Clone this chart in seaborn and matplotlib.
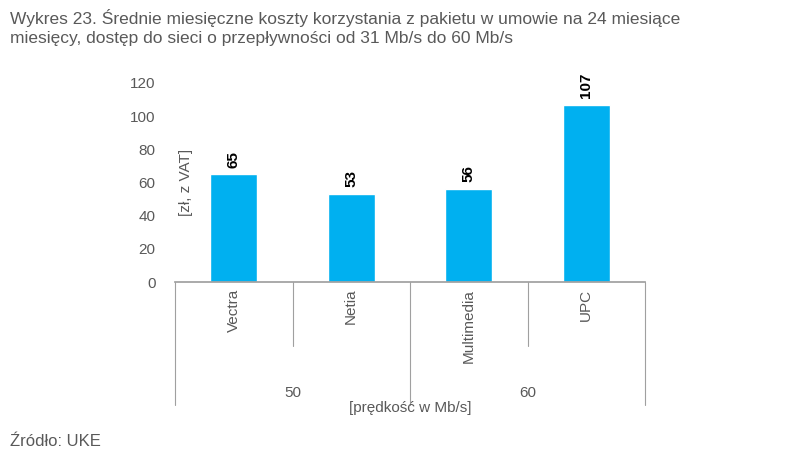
import matplotlib.pyplot as plt
import seaborn as sns
import pandas as pd

operators = ['Vectra', 'Netia', 'Multimedia', 'UPC']
costs = [65, 53, 56, 107]
speed_groups = ['50', '60']

sns.set_theme(style='white')
plt.rcParams['font.family'] = ['Liberation Sans', 'DejaVu Sans']
gray = '#595959'

df = pd.DataFrame({'operator': operators, 'cost': costs})

fig = plt.figure(figsize=(7.94, 4.63), dpi=100)
ax = fig.add_axes([175 / 794, 1 - 282 / 463, 470 / 794, 199 / 463])
sns.barplot(data=df, x='operator', y='cost', color='#00B0F0', width=0.4,
            saturation=1, ax=ax)
ax.set_xlim(-0.5, 3.5)
ax.set_ylim(0, 120)
ax.set_yticks(range(0, 121, 20))
ax.tick_params(axis='y', colors=gray, labelsize=11, length=0, pad=14)
ax.set_xticks([])
ax.set_xlabel('')
ax.set_ylabel('')
for s in ['top', 'right', 'left']:
    ax.spines[s].set_visible(False)
ax.spines['bottom'].set_color('#A0A0A0')

for i, v in enumerate(costs):
    ax.text(i, v + 4, str(v), rotation=90, ha='center', va='bottom',
            fontsize=11, fontweight='bold', color='black')
    ax.text(i, -4, operators[i], rotation=90, ha='center', va='top',
            fontsize=11, color=gray)

# group separators below the axis
tr = ax.get_xaxis_transform()
for x, h in [(-0.5, -0.62), (0.5, -0.32), (1.5, -0.62), (2.5, -0.32), (3.5, -0.62)]:
    ax.plot([x, x], [0, h], color='#A0A0A0', lw=0.8, transform=tr, clip_on=False)
for x, lab in zip([0.5, 2.5], speed_groups):
    ax.text(x, -0.56, lab, ha='center', va='center', fontsize=11, color=gray, transform=tr)
ax.text(1.5, -0.635, '[prędkość w Mb/s]', ha='center', va='center', fontsize=11,
        color=gray, transform=tr)

fig.text(186 / 794, 1 - 182 / 463, '[zł, z VAT]', rotation=90, ha='center',
         va='center', fontsize=11, color=gray)
fig.text(10 / 794, 1 - 18 / 463,
         'Wykres 23. Średnie miesięczne koszty korzystania z pakietu w umowie na 24 miesiące',
         fontsize=12.5, color=gray, va='center')
fig.text(10 / 794, 1 - 38 / 463,
         'miesięcy, dostęp do sieci o przepływności od 31 Mb/s do 60 Mb/s',
         fontsize=12.5, color=gray, va='center')
fig.text(10 / 794, 1 - 441 / 463, 'Źródło: UKE', fontsize=12, color=gray, va='center')

fig.savefig('out.png', dpi=100)
